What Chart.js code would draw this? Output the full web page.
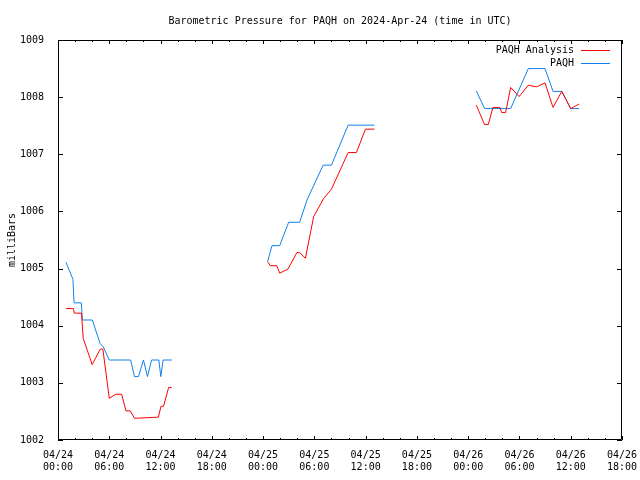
<!DOCTYPE html>
<html>
<head>
<meta charset="utf-8">
<script src="https://cdn.jsdelivr.net/npm/chart.js@4/dist/chart.umd.min.js"></script>
<style>
  html, body { margin: 0; padding: 0; background: #fff; }
  #wrap { width: 640px; height: 480px; }
</style>
</head>
<body>
<div id="wrap"><canvas id="chart" width="640" height="480"></canvas></div>
<script>
// ── Data (hours since 04/24 00:00 UTC, pressure in mb; null = gap) ──
const analysisHours = [
  0.93, 1.8, 1.9, 2.75, 2.95, 4.0, 4.95, 5.25, 6.0, 6.75, 7.45, 7.95, 8.45, 8.95, 11.75, 12.05, 12.35, 12.95, 13.3,
  19,
  24.53, 24.84, 25.6, 25.94, 26.9, 27.95, 28.28, 28.95, 29.92, 31.1, 32.0, 33.95, 34.92, 35.98, 37.03,
  43,
  48.95, 49.92, 50.35, 50.9, 51.7, 51.92, 52.38, 52.97, 53.96, 55.04, 56.0, 56.99, 57.93, 58.95, 60.0, 60.98
];
const analysisValues = [
  1004.30, 1004.30, 1004.22, 1004.22, 1003.78, 1003.32, 1003.59, 1003.59, 1002.73, 1002.80, 1002.80, 1002.51, 1002.51, 1002.38, 1002.40, 1002.59, 1002.59, 1002.92, 1002.92,
  null,
  1005.12, 1005.05, 1005.05, 1004.92, 1004.99, 1005.28, 1005.28, 1005.18, 1005.91, 1006.23, 1006.39, 1007.03, 1007.03, 1007.44, 1007.44,
  null,
  1007.86, 1007.52, 1007.52, 1007.82, 1007.82, 1007.73, 1007.73, 1008.17, 1008.01, 1008.21, 1008.18, 1008.25, 1007.82, 1008.10, 1007.80, 1007.88
];

const obsHours = [
  0.93, 1.75, 1.88, 2.73, 2.85, 4.02, 4.92, 5.3, 6.0, 8.5, 8.95, 9.42, 10.0, 10.47, 10.95, 11.8, 12.03, 12.3, 13.3,
  19,
  24.53, 25.04, 25.94, 26.99, 28.28, 29.14, 31.02, 32.0, 33.95, 37.03,
  43,
  48.95, 49.92, 52.97, 55.04, 56.99, 57.93, 58.95, 60.0, 60.98
];
const obsValues = [
  1005.11, 1004.81, 1004.40, 1004.40, 1004.10, 1004.10, 1003.69, 1003.63, 1003.40, 1003.40, 1003.11, 1003.11, 1003.40, 1003.11, 1003.40, 1003.40, 1003.11, 1003.40, 1003.40,
  null,
  1005.12, 1005.40, 1005.40, 1005.81, 1005.81, 1006.20, 1006.81, 1006.81, 1007.51, 1007.51,
  null,
  1008.11, 1007.80, 1007.80, 1008.50, 1008.50, 1008.10, 1008.10, 1007.80, 1007.80
];

const seriesNames = ['PAQH Analysis', 'PAQH'];
const seriesColors = ['#ff0000', '#1080f0'];

const xTickDates = ['04/24', '04/24', '04/24', '04/24', '04/25', '04/25', '04/25', '04/25', '04/26', '04/26', '04/26', '04/26'];
const xTickTimes = ['00:00', '06:00', '12:00', '18:00', '00:00', '06:00', '12:00', '18:00', '00:00', '06:00', '12:00', '18:00'];

const FONT = { family: "'DejaVu Sans Mono', monospace", size: 10 };

const toPoints = (xs, ys) => xs.map((x, i) => ({ x, y: ys[i] }));

// ── Gnuplot-style frame with inward ticks + inside legend ──
const framePlugin = {
  id: 'frame',
  afterDatasetsDraw(chart) {
    const { ctx, chartArea: a, scales } = chart;
    const xs = scales.x, ys = scales.y;
    ctx.save();
    ctx.strokeStyle = '#000';
    ctx.lineWidth = 1;
    ctx.beginPath();
    ctx.rect(Math.round(a.left) + 0.5, Math.round(a.top) + 0.5,
             Math.round(a.right - a.left) - 1, Math.round(a.bottom - a.top) - 1);
    ctx.stroke();

    ctx.beginPath();
    // y ticks, both sides
    ys.ticks.forEach(t => {
      const py = Math.round(ys.getPixelForValue(t.value)) + 0.5;
      ctx.moveTo(a.left, py); ctx.lineTo(a.left + 5, py);
      ctx.moveTo(a.right, py); ctx.lineTo(a.right - 5, py);
    });
    // x ticks, bottom and top: major every 6h, minor every 2h
    for (let h = 0; h <= 66; h += 2) {
      const px = Math.round(xs.getPixelForValue(h)) + 0.5;
      const len = h % 6 === 0 ? 4 : 2;
      ctx.moveTo(px, a.bottom); ctx.lineTo(px, a.bottom - len);
      ctx.moveTo(px, a.top); ctx.lineTo(px, a.top + len);
    }
    ctx.stroke();

    // legend
    ctx.font = `${FONT.size}px ${FONT.family}`;
    ctx.textAlign = 'right';
    ctx.textBaseline = 'middle';
    chart.data.datasets.forEach((ds, i) => {
      const y = a.top + 10 + i * 13;
      ctx.fillStyle = '#000';
      ctx.fillText(ds.label, a.right - 48, y);
      ctx.strokeStyle = ds.borderColor;
      ctx.beginPath();
      ctx.moveTo(a.right - 41, Math.round(y) + 0.5);
      ctx.lineTo(a.right - 12, Math.round(y) + 0.5);
      ctx.stroke();
    });
    ctx.restore();
  }
};

new Chart(document.getElementById('chart'), {
  type: 'line',
  data: {
    datasets: [
      {
        label: seriesNames[0],
        data: toPoints(analysisHours, analysisValues),
        borderColor: seriesColors[0], borderWidth: 1,
        pointRadius: 0, tension: 0, spanGaps: false, fill: false,
      },
      {
        label: seriesNames[1],
        data: toPoints(obsHours, obsValues),
        borderColor: seriesColors[1], borderWidth: 1,
        pointRadius: 0, tension: 0, spanGaps: false, fill: false,
      },
    ],
  },
  options: {
    responsive: false,
    animation: false,
    devicePixelRatio: 1,
    layout: { padding: { left: 0, right: 18, top: 0, bottom: 0 } },
    plugins: {
      legend: { display: false },
      tooltip: { enabled: false },
      title: {
        display: true,
        fullSize: false,
        text: 'Barometric Pressure for PAQH on 2024-Apr-24 (time in UTC)',
        color: '#000',
        font: { ...FONT, weight: 'normal' },
        padding: { top: 15, bottom: 13 },
      },
    },
    scales: {
      x: {
        type: 'linear',
        min: 0, max: 66,
        grid: { display: false },
        border: { display: false },
        afterFit: s => { s.height = 40; s.paddingLeft = 0; s.paddingRight = 0; },
        ticks: {
          stepSize: 6,
          autoSkip: false,
          maxRotation: 0,
          padding: 1,
          color: '#000',
          font: FONT,
          callback: v => {
            const i = Math.round(v / 6);
            return [xTickDates[i], xTickTimes[i]];
          },
        },
      },
      y: {
        min: 1002, max: 1009,
        grid: { display: false },
        border: { display: false },
        afterFit: s => { s.width = 58; },
        ticks: { stepSize: 1, padding: 6, color: '#000', font: FONT, callback: v => String(v) },
        title: {
          display: true,
          text: 'milliBars',
          color: '#000',
          font: FONT,
          padding: { top: 6, bottom: 0 },
        },
      },
    },
  },
  plugins: [framePlugin],
});
</script>
</body>
</html>
